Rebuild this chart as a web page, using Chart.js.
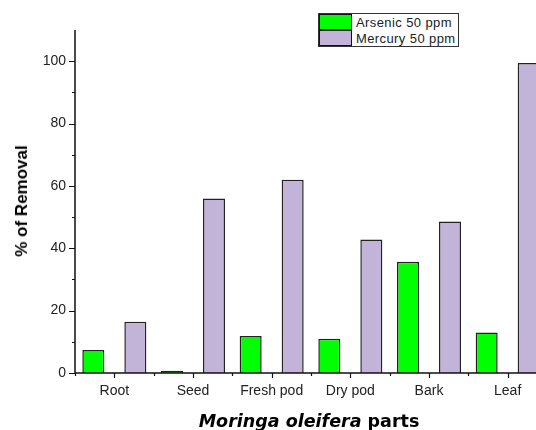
<!DOCTYPE html>
<html>
<head>
<meta charset="utf-8">
<script src="https://cdn.jsdelivr.net/npm/chart.js@4"></script>
<style>
  html, body { margin: 0; padding: 0; background: #fff; overflow: hidden; width: 536px; height: 430px; }
  #wrap { position: absolute; left: 0; top: 0; width: 547px; height: 430px; }
  #yTitle {
    position: absolute; left: 22px; top: 201px;
    transform: translate(-50%, -50%) rotate(-90deg);
    font: bold 17px "Liberation Sans", Arial, sans-serif; color: #000; white-space: nowrap;
  }
  #xTitle {
    position: absolute; left: 309px; top: 421px; transform: translate(-50%, -50%);
    font: bold 17.5px "DejaVu Sans", sans-serif; color: #000; white-space: nowrap;
  }
  #legend {
    position: absolute; left: 318px; top: 13px; width: 139px; height: 32px;
    border: 1px solid #333; background: #fff;
  }
  .leg-row { display: flex; align-items: center; height: 16px; }
  .leg-sw { width: 31px; height: 14px; border: 1px solid #111; box-sizing: content-box; }
  .leg-txt { margin-left: 4px; font: 13px "Liberation Sans", Arial, sans-serif; letter-spacing: 0.4px; color: #222; }
</style>
</head>
<body>
<div id="wrap">
  <canvas id="chart" width="547" height="430"></canvas>
  <div id="yTitle">% of Removal</div>
  <div id="xTitle"><i>Moringa oleifera</i> parts</div>
  <div id="legend"></div>
</div>
<script>
function $(id) { return document.getElementById(id); }

const parts = ["Root", "Seed", "Fresh pod", "Dry pod", "Bark", "Leaf"];
const arsenic = [7.4, 0.7, 11.9, 11, 35.7, 13];
const mercury = [16.4, 56, 62, 42.8, 48.6, 99.4];
const seriesNames = ["Arsenic 50 ppm", "Mercury 50 ppm"];
const yTicks = [0, 20, 40, 60, 80, 100];

const green = "#00ff00";
const lilac = "#c2b3d8";

// the original's labels are drawn wide, so space the letters a little
const wideText = {
  id: "wideText",
  beforeInit(chart) { chart.ctx.letterSpacing = "1px"; }
};

// axis lines plus major/minor ticks, placed from the scales
const axisTicks = {
  id: "axisTicks",
  afterDraw(chart) {
    const ctx = chart.ctx;
    const x = chart.scales.x;
    const y = chart.scales.y;
    const left = chart.chartArea.left;
    const bottom = chart.chartArea.bottom;
    ctx.save();
    ctx.strokeStyle = "#111";
    ctx.lineWidth = 1.5;
    ctx.beginPath();
    ctx.moveTo(left, chart.chartArea.top);
    ctx.lineTo(left, bottom);
    ctx.lineTo(chart.chartArea.right, bottom);
    ctx.stroke();

    ctx.lineWidth = 1.2;
    ctx.beginPath();
    for (let v = 0; v <= 100; v += 10) {
      const py = Math.round(y.getPixelForValue(v)) + 0.5;
      const len = v % 20 === 0 ? 6 : 3;
      ctx.moveTo(left, py);
      ctx.lineTo(left - len, py);
    }
    const half = (x.getPixelForValue(1) - x.getPixelForValue(0)) / 2;
    for (let i = 0; i < parts.length; i++) {
      const c = Math.round(x.getPixelForValue(i)) + 0.5;
      ctx.moveTo(c, bottom);
      ctx.lineTo(c, bottom + 5);
      const b = Math.round(x.getPixelForValue(i) - half) + 0.5;
      ctx.moveTo(b, bottom);
      ctx.lineTo(b, bottom + 3);
    }
    ctx.stroke();
    ctx.restore();
  }
};

function renderLegend(datasets) {
  const root = $("legend");
  root.innerHTML = "";
  for (const ds of datasets) {
    const row = document.createElement("div");
    row.className = "leg-row";
    const sw = document.createElement("div");
    sw.className = "leg-sw";
    sw.style.background = ds.backgroundColor;
    const txt = document.createElement("span");
    txt.className = "leg-txt";
    txt.textContent = ds.label;
    row.appendChild(sw);
    row.appendChild(txt);
    root.appendChild(row);
  }
}

const datasets = [
  { label: seriesNames[0], data: arsenic, backgroundColor: green },
  { label: seriesNames[1], data: mercury, backgroundColor: lilac }
].map((d) => ({
  ...d,
  borderColor: "#222",
  borderWidth: 1.5,
  categoryPercentage: 1.068,
  barPercentage: 0.524
}));

new Chart($("chart").getContext("2d"), {
  type: "bar",
  data: { labels: parts, datasets },
  options: {
    responsive: false,
    animation: false,
    layout: { padding: { top: 30, right: 0, bottom: 0, left: 0 } },
    plugins: { legend: { display: false }, tooltip: { enabled: false } },
    scales: {
      x: {
        grid: { display: false, drawTicks: false },
        border: { display: false },
        ticks: {
          padding: 10,
          color: "#222",
          font: { family: "Liberation Sans", size: 14 },
          maxRotation: 0,
          autoSkip: false
        },
        afterFit: (s) => { s.height = 57; }
      },
      y: {
        min: 0,
        max: 110,
        afterBuildTicks: (s) => { s.ticks = yTicks.map((v) => ({ value: v })); },
        grid: { display: false, drawTicks: false },
        border: { display: false },
        ticks: {
          padding: 9,
          color: "#222",
          font: { family: "Liberation Sans", size: 14 }
        },
        afterFit: (s) => { s.width = 75; }
      }
    }
  },
  plugins: [wideText, axisTicks]
});

renderLegend(datasets);
</script>
</body>
</html>
